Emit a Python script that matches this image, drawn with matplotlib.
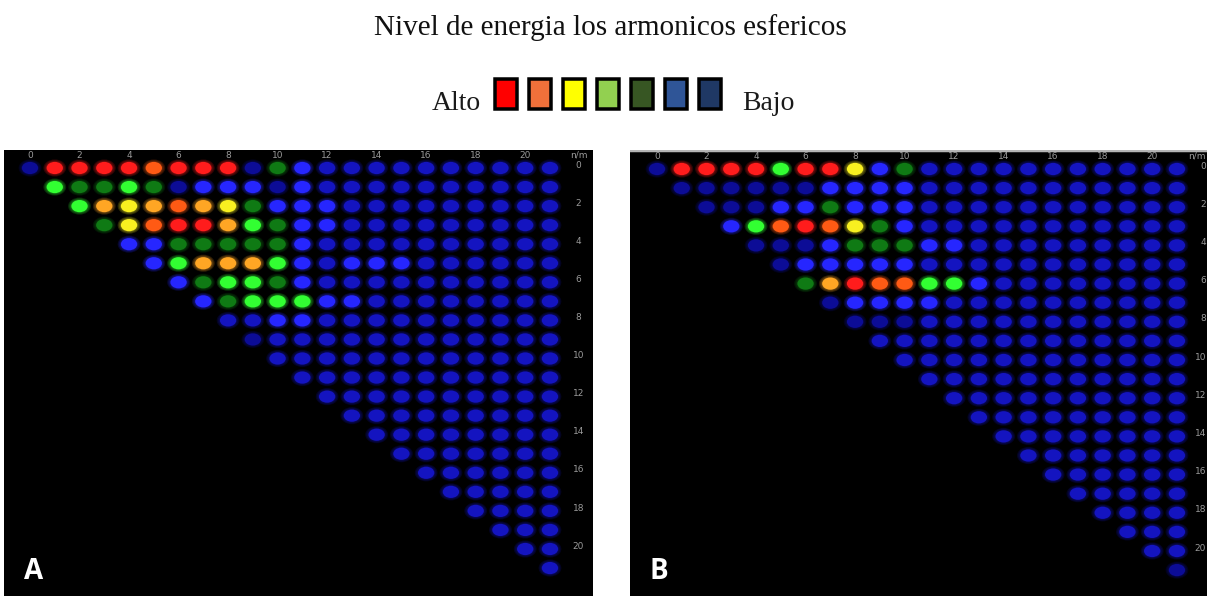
import matplotlib.pyplot as plt
from matplotlib.patches import Ellipse, Rectangle

# tamano de la figura en pixeles
W, H = 1207, 599

titulo = 'Nivel de energia los armonicos esfericos'

# leyenda (de alto a bajo)
leyenda_colores = ['#ff0000', '#f0703a', '#ffff00', '#92d050', '#375623', '#2f5597', '#1f3864']

# colores de los puntos
colores = {
    'R': '#ff1c1c',   # rojo
    'O': '#ff5a14',   # naranja rojizo
    'A': '#ffa624',   # naranja
    'Y': '#f8f020',   # amarillo
    'G': '#32ff32',   # verde claro
    'D': '#0f7a14',   # verde oscuro
    'B': '#2626ff',   # azul claro
    'M': '#1414c0',   # azul
    'N': '#0c0c96',   # azul oscuro
}

# etiquetas de ejes
etiquetas_col = ['0', '2', '4', '6', '8', '10', '12', '14', '16', '18', '20']
etiquetas_fila = ['0', '2', '4', '6', '8', '10', '12', '14', '16', '18', '20']

# fila r -> columnas r..21
filas_a = [
    'NRRRRORRRNDBMMMMMMMMMM',
    'GDDGDNBBBNBMMMMMMMMMM',
    'GAYAOAYDBBBMMMMMMMMM',
    'DYORRAGDBBMMMMMMMMM',
    'BBDDDDDBMMMMMMMMMM',
    'BGAAAGBMBBBMMMMMM',
    'BDGGDBMMMMMMMMMM',
    'BDGGGBBMMMMMMMM',
    'MMBBMMMMMMMMMM',
    'NMMMMMMMMMMMM',
    'MMMMMMMMMMMM',
    'MMMMMMMMMMM',
    'MMMMMMMMMM',
    'MMMMMMMMM',
    'MMMMMMMM',
    'MMMMMMM',
    'MMMMMM',
    'MMMMM',
    'MMMM',
    'MMM',
    'MM',
    'M',
]

filas_b = [
    'NRRRRGRRYBDMMMMMMMMMMM',
    'NNNNNNBBBBMMMMMMMMMMM',
    'NNNBBDBBBMMMMMMMMMMM',
    'BGOROYDBMMMMMMMMMMM',
    'NNNBDDDBBMMMMMMMMM',
    'NBBBBBMMMMMMMMMMM',
    'DAROOGGBMMMMMMMM',
    'NBBBBMMMMMMMMMM',
    'NNNMMMMMMMMMMM',
    'MMMMMMMMMMMMM',
    'MMMMMMMMMMMM',
    'MMMMMMMMMMM',
    'MMMMMMMMMM',
    'MMMMMMMMM',
    'MMMMMMMM',
    'MMMMMMM',
    'MMMMMM',
    'MMMMM',
    'MMMM',
    'MMM',
    'MM',
    'N',
]

fig = plt.figure(figsize=(W / 100, H / 100), dpi=100)
fig.patch.set_facecolor('white')


def px_ax(x0, y0, x1, y1):
    # ejes a partir de pixeles (origen arriba a la izquierda)
    return fig.add_axes([x0 / W, 1 - y1 / H, (x1 - x0) / W, (y1 - y0) / H])


def dibujar_panel(ax, filas, letra, x0, y0, x1, y1, cx, cy, dx, dy, x_fila, ha_fila):
    ax.set_facecolor('black')
    ax.set_xlim((x0 - cx) / dx, (x1 - cx) / dx)
    ax.set_ylim((y1 - cy) / dy, (y0 - cy) / dy)
    ax.set_xticks([])
    ax.set_yticks([])
    for s in ax.spines.values():
        s.set_visible(False)

    for r, fila in enumerate(filas):
        for k, c in enumerate(fila):
            col = r + k
            color = colores[c]
            # halo difuso
            for esc in (1.0, 0.9, 0.8):
                ax.add_patch(Ellipse((col, r), 0.92 * esc, 0.9 * esc,
                                     facecolor=color, alpha=0.17, lw=0))
            ax.add_patch(Ellipse((col, r), 0.66, 0.64, facecolor=color, lw=0))

    # etiquetas superiores
    for lab in etiquetas_col:
        ax.text(int(lab), -0.68, lab, color='#9a9a9a', fontsize=6.5,
                ha='center', va='center')
    ax.text(x_fila, -0.68, 'n/m', color='#9a9a9a', fontsize=6.5,
            ha=ha_fila, va='center')
    # etiquetas de fila a la derecha
    for lab in etiquetas_fila:
        ax.text(x_fila, int(lab) - 0.15, lab, color='#9a9a9a', fontsize=6.5,
                ha=ha_fila, va='center')

    ax.text(0.05, 0.055, letra, transform=ax.transAxes, color='white',
            fontsize=20, fontweight='bold', family='Open Sans',
            ha='center', va='center')


ax_a = px_ax(4, 150, 593, 596)
dibujar_panel(ax_a, filas_a, 'A', 4, 150, 593, 596, 30, 168, 24.76, 19.05, 22.15, 'center')

ax_b = px_ax(630, 150, 1207, 596)
dibujar_panel(ax_b, filas_b, 'B', 630, 150, 1207, 596, 657, 169, 24.76, 19.1,
              (1206 - 657) / 24.76, 'right')
ax_b.axhline(ax_b.get_ylim()[1], color='#b4b4b4', lw=2.5)

# titulo
fig.text(610 / W, 1 - 35 / H, titulo, family='Liberation Serif', fontsize=21,
         ha='center', va='baseline', color='#111111')

# leyenda
fig.text(481 / W, 1 - 110 / H, 'Alto', family='Liberation Serif', fontsize=20,
         ha='right', va='baseline', color='#1a1a1a')
fig.text(742 / W, 1 - 110 / H, 'Bajo', family='Liberation Serif', fontsize=20,
         ha='left', va='baseline', color='#1a1a1a')
lw_px = 3.5
for i, c in enumerate(leyenda_colores):
    x = 493 + 34 * i
    rect = Rectangle(((x + lw_px / 2) / W, 1 - (111 - lw_px / 2) / H),
                     (26 - lw_px) / W, (34 - lw_px) / H,
                     transform=fig.transFigure, facecolor=c,
                     edgecolor='black', lw=lw_px * 72 / 100)
    fig.add_artist(rect)

plt.savefig('out.png', dpi=100)
